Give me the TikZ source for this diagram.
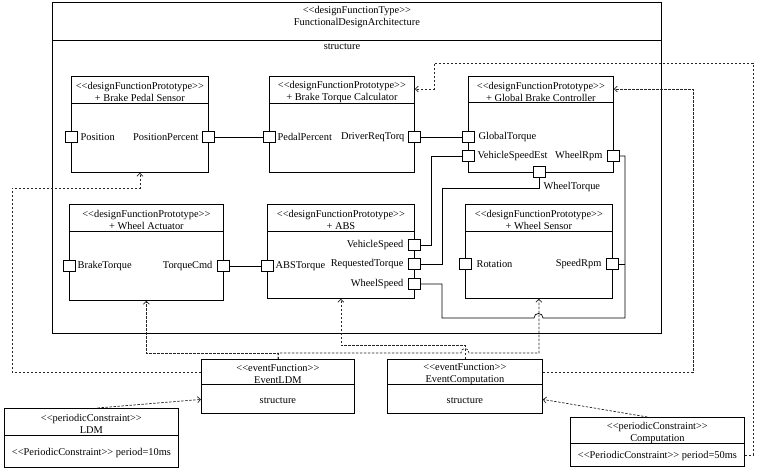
\documentclass[tikz,border=0pt]{standalone}
\usepackage{fontspec}
\setmainfont{Liberation Serif}[Ligatures=TeXOff]
\usetikzlibrary{positioning, arrows.meta}
\tikzstyle{frame}=[draw, line width=0.8pt, inner sep=0, anchor=north west]
\tikzstyle{port}=[draw, fill=white, line width=0.8pt, minimum width=12pt, minimum height=11pt, inner sep=0]
\tikzstyle{txt}=[inner sep=0, align=center, font=\fontsize{10.4}{12}\selectfont]
\tikzstyle{wire}=[line width=0.7pt]
\tikzstyle{dep}=[line width=0.7pt, black!85, dash pattern=on 2.5pt off 1.5pt, -{Straight Barb[length=3pt, width=6pt]}]
\newcommand{\classbox}[8]{%
  \node[frame, minimum width=#4pt, minimum height=#5pt] (#1) at (#2,#3) {};
  \draw[line width=0.8pt] ([yshift=-#6pt]#1.north west) -- ([yshift=-#6pt]#1.north east);
  \node[txt] at ([yshift=-15.5pt]#1.north) {#7};
  \node[txt] at ([yshift={0.5*(#5-#6)*1pt-1pt}]#1.south) {#8};
}

\begin{document}
\begin{tikzpicture}[x=1pt, y=-1pt]
  \useasboundingbox (0,0) rectangle (760,468);
  % architecture
  \classbox{fda}{52}{2}{609}{331}{38}{<<designFunctionType>>\\FunctionalDesignArchitecture}{}
  \node[txt] at (342,47) {structure};
  % prototypes
  \classbox{bps}{71}{76}{137}{96}{27}{<<designFunctionPrototype>>\\+ Brake Pedal Sensor}{}
  \classbox{btc}{269}{76}{145}{96}{27}{<<designFunctionPrototype>>\\+ Brake Torque Calculator}{}
  \classbox{gbc}{468}{76}{145}{96}{26}{<<designFunctionPrototype>>\\+ Global Brake Controller}{}
  \classbox{wa}{69}{204}{154}{96}{27}{<<designFunctionPrototype>>\\+ Wheel Actuator}{}
  \classbox{abs}{267}{204}{147}{94}{27}{<<designFunctionPrototype>>\\+ ABS}{}
  \classbox{ws}{465}{204}{147}{94}{27}{<<designFunctionPrototype>>\\+ Wheel Sensor}{}
  % ports
  \node[port] (bps_pos) at (71,137) {};
  \node[port] (bps_pp) at (208,137) {};
  \node[port] (btc_pp) at (269,137) {};
  \node[port] (btc_drt) at (414,137) {};
  \node[port] (gbc_gt) at (468,137) {};
  \node[port] (gbc_vse) at (468,156) {};
  \node[port] (gbc_wr) at (613,156) {};
  \node[port] (gbc_wt) at (539,172) {};
  \node[port] (wa_bt) at (69,266) {};
  \node[port] (wa_tc) at (223,266) {};
  \node[port] (abs_at) at (267,266) {};
  \node[port] (abs_vs) at (414,245) {};
  \node[port] (abs_rt) at (414,264) {};
  \node[port] (abs_ws) at (414,284) {};
  \node[port] (ws_rot) at (465,264) {};
  \node[port] (ws_sr) at (612,264) {};
  \node[txt, right=3pt of bps_pos] {Position};
  \node[txt, left=3pt of bps_pp] {PositionPercent};
  \node[txt, right=2pt of btc_pp] {PedalPercent};
  \node[txt, left=3pt of btc_drt] {DriverReqTorq};
  \node[txt, right=4pt of gbc_gt] {GlobalTorque};
  \node[txt, right=3pt of gbc_vse] {VehicleSpeedEst};
  \node[txt, left=4pt of gbc_wr] {WheelRpm};
  \node[txt, anchor=north west] at ([xshift=-2pt, yshift=-4pt]gbc_wt.south east) {WheelTorque};
  \node[txt, right=2pt of wa_bt] {BrakeTorque};
  \node[txt, left=4pt of wa_tc] {TorqueCmd};
  \node[txt, right=2pt of abs_at] {ABSTorque};
  \node[txt, left=4pt of abs_vs] {VehicleSpeed};
  \node[txt, left=4pt of abs_rt] {RequestedTorque};
  \node[txt, left=4pt of abs_ws] {WheelSpeed};
  \node[txt, right=5pt of ws_rot] {Rotation};
  \node[txt, left=4pt of ws_sr] {SpeedRpm};
  % events and constraints
  \classbox{evldm}{201}{359}{153}{54}{25}{<<eventFunction>>\\EventLDM}{structure}
  \classbox{evcomp}{387}{359}{155}{54}{25}{<<eventFunction>>\\EventComputation}{structure}
  \classbox{ldm}{4}{408}{174}{59}{27}{<<periodicConstraint>>\\LDM}{<<PeriodicConstraint>> period=10ms}
  \classbox{comp}{570}{417}{174}{49}{26}{<<periodicConstraint>>\\Computation}{<<PeriodicConstraint>> period=50ms}
  % connectors
  \draw[wire] (bps_pp) -- (btc_pp);
  \draw[wire] (btc_drt) -- (gbc_gt);
  \draw[wire] (wa_tc) -- (abs_at);
  \draw[wire] (gbc_vse.west) -| ([xshift=11pt]abs_vs.east) -- (abs_vs.east);
  \draw[wire] (gbc_wt.south) -- ++(0,10) -| ([xshift=22pt]abs_rt.east) -- (abs_rt.east);
  \draw[wire] (abs_ws.east) -| (442,318) -- (534,318) .. controls (534,312) and (543,312) .. (543,318) -- (625,318) |- (gbc_wr.east);
  \draw[wire] (ws_sr.east) -- ++(7,0);
  % dependencies
  \draw[dep] ([xshift=6pt]ldm.north) -- ([yshift=-13pt]evldm.west);
  \draw[dep] ([xshift=-10pt]comp.north) -- ([yshift=-13pt]evcomp.east);
  \draw[dep] ([yshift=14pt]evldm.west) -| (12,188) -| (bps.south);
  \draw[dep] (evldm.north) -- ++(0,-6) -| (wa.south);
  \draw[dep] (evldm.north) -- ++(0,-6) -- (461,353) .. controls (461,347) and (469,347) .. (469,353) -| (ws.south);
  \draw[dep] (evcomp.north) -- ++(0,-14) -| (abs.south);
  \draw[dep] ([yshift=14pt]evcomp.east) -| (693,89) -- ([yshift=-13pt]gbc.north east);
  \draw[dep] ([yshift=-13pt]comp.east) -| (753,63) -| (434,89) -- ([yshift=-13pt]btc.north east);
\end{tikzpicture}
\end{document}
